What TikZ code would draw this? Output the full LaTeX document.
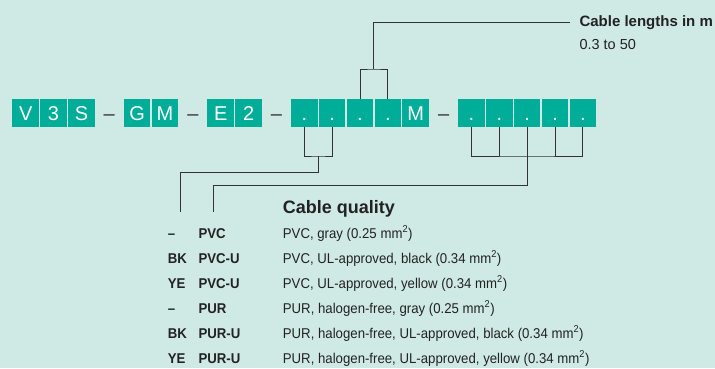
\documentclass[tikz,border=0pt]{standalone}
\usepackage{fontspec}
\setmainfont{Liberation Sans}
\newfontfamily\narrowsans[FakeStretch=0.93]{Liberation Sans}
\definecolor{keyteal}{HTML}{00AD98}
\definecolor{bgmint}{HTML}{CFE9E5}
\definecolor{leadgray}{HTML}{333333}
\definecolor{inkgray}{HTML}{222222}
\tikzset{
  keybox/.style={fill=keyteal,text=white,minimum width=26.6pt,minimum height=27.7pt,inner sep=0pt,
    text height=14.5pt,text depth=0pt,font=\fontsize{20}{20}\selectfont},
  keydash/.style={keybox,fill=none,text=leadgray},
  tabtext/.style={anchor=base west,inner sep=0pt,text=inkgray,font=\narrowsans\fontsize{14.2}{15}\selectfont},
  codetext/.style={tabtext,font=\narrowsans\fontsize{14.2}{15}\selectfont\bfseries},
  headtext/.style={tabtext,font=\fontsize{18}{18}\selectfont\bfseries},
  lenhead/.style={tabtext,font=\fontsize{15}{15}\selectfont\bfseries},
  lenrange/.style={tabtext,font=\fontsize{14.5}{15}\selectfont},
  leadline/.style={draw=leadgray,line width=1pt},
}
\begin{document}
\begin{tikzpicture}[x=1pt,y=-1pt]
  \fill[bgmint] (0,0) rectangle (715,368);
  \useasboundingbox (0,0) rectangle (715,368);
  % type key
  \node[keybox] (bV) at (25.70,112.9) {V};
  \node[keybox] (b3) at (53.56,112.9) {3};
  \node[keybox] (bS) at (81.42,112.9) {S};
  \node[keydash] (h1) at (109.28,112.9) {–};
  \node[keybox] (bG) at (137.14,112.9) {G};
  \node[keybox] (bM) at (165.00,112.9) {M};
  \node[keydash] (h2) at (192.86,112.9) {–};
  \node[keybox] (bE) at (220.72,112.9) {E};
  \node[keybox] (b2) at (248.58,112.9) {2};
  \node[keydash] (h3) at (276.44,112.9) {–};
  \node[keybox] (bL1) at (304.30,112.9) {.};
  \node[keybox] (bL2) at (332.16,112.9) {.};
  \node[keybox] (bL3) at (360.02,112.9) {.};
  \node[keybox] (bL4) at (387.88,112.9) {.};
  \node[keybox] (bLM) at (415.74,112.9) {M};
  \node[keydash] (h4) at (443.60,112.9) {–};
  \node[keybox] (bQ1) at (471.46,112.9) {.};
  \node[keybox] (bQ2) at (499.32,112.9) {.};
  \node[keybox] (bQ3) at (527.18,112.9) {.};
  \node[keybox] (bQ4) at (555.04,112.9) {.};
  \node[keybox] (bQ5) at (582.90,112.9) {.};
  % cable length
  \node[lenhead] (tLen) at (579.3,26.7) {Cable lengths in m};
  \node[lenrange] (tLenRange) at (579.3,49.3) {0.3 to 50};
  \coordinate (jL) at (373.95,69);
  \coordinate (cLen) at (570,22);
  \draw[leadline] (bL3.north) |- (jL) -| (bL4.north);
  \draw[leadline] (jL) |- (cLen);
  % cable quality
  \node[headtext] (tQual) at (282.7,213.3) {Cable quality};
  \node[codetext] (tCode1) at (167.7,238) {–};
  \node[codetext] (tName1) at (198.3,238) {PVC};
  \node[tabtext] (tDesc1) at (282.7,238) {PVC, gray (0.25 mm\textsuperscript{2})};
  \node[codetext] (tCode2) at (167.7,263) {BK};
  \node[codetext] (tName2) at (198.3,263) {PVC-U};
  \node[tabtext] (tDesc2) at (282.7,263) {PVC, UL-approved, black (0.34 mm\textsuperscript{2})};
  \node[codetext] (tCode3) at (167.7,288) {YE};
  \node[codetext] (tName3) at (198.3,288) {PVC-U};
  \node[tabtext] (tDesc3) at (282.7,288) {PVC, UL-approved, yellow (0.34 mm\textsuperscript{2})};
  \node[codetext] (tCode4) at (167.7,313) {–};
  \node[codetext] (tName4) at (198.3,313) {PUR};
  \node[tabtext] (tDesc4) at (282.7,313) {PUR, halogen-free, gray (0.25 mm\textsuperscript{2})};
  \node[codetext] (tCode5) at (167.7,338) {BK};
  \node[codetext] (tName5) at (198.3,338) {PUR-U};
  \node[tabtext] (tDesc5) at (282.7,338) {PUR, halogen-free, UL-approved, black (0.34 mm\textsuperscript{2})};
  \node[codetext] (tCode6) at (167.7,363) {YE};
  \node[codetext] (tName6) at (198.3,363) {PUR-U};
  \node[tabtext] (tDesc6) at (282.7,363) {PUR, halogen-free, UL-approved, yellow (0.34 mm\textsuperscript{2})};
  \coordinate (jQ) at (318.23,156);
  \coordinate (jC) at (527.18,156);
  \coordinate (cCode) at (180.7,211.7);
  \coordinate (cName) at (213.3,211.7);
  \draw[leadline] (bL1.south) |- (jQ) -| (bL2.south);
  \draw[leadline] (jQ) -- ++(0,16) -| (cCode);
  \draw[leadline] (bQ1.south) |- (jC) -| (bQ5.south);
  \draw[leadline] (bQ2.south) -- (bQ2.south |- jC);
  \draw[leadline] (bQ4.south) -- (bQ4.south |- jC);
  \draw[leadline] (bQ3.south) -- (jC) -- ++(0,29) -| (cName);
\end{tikzpicture}
\end{document}
